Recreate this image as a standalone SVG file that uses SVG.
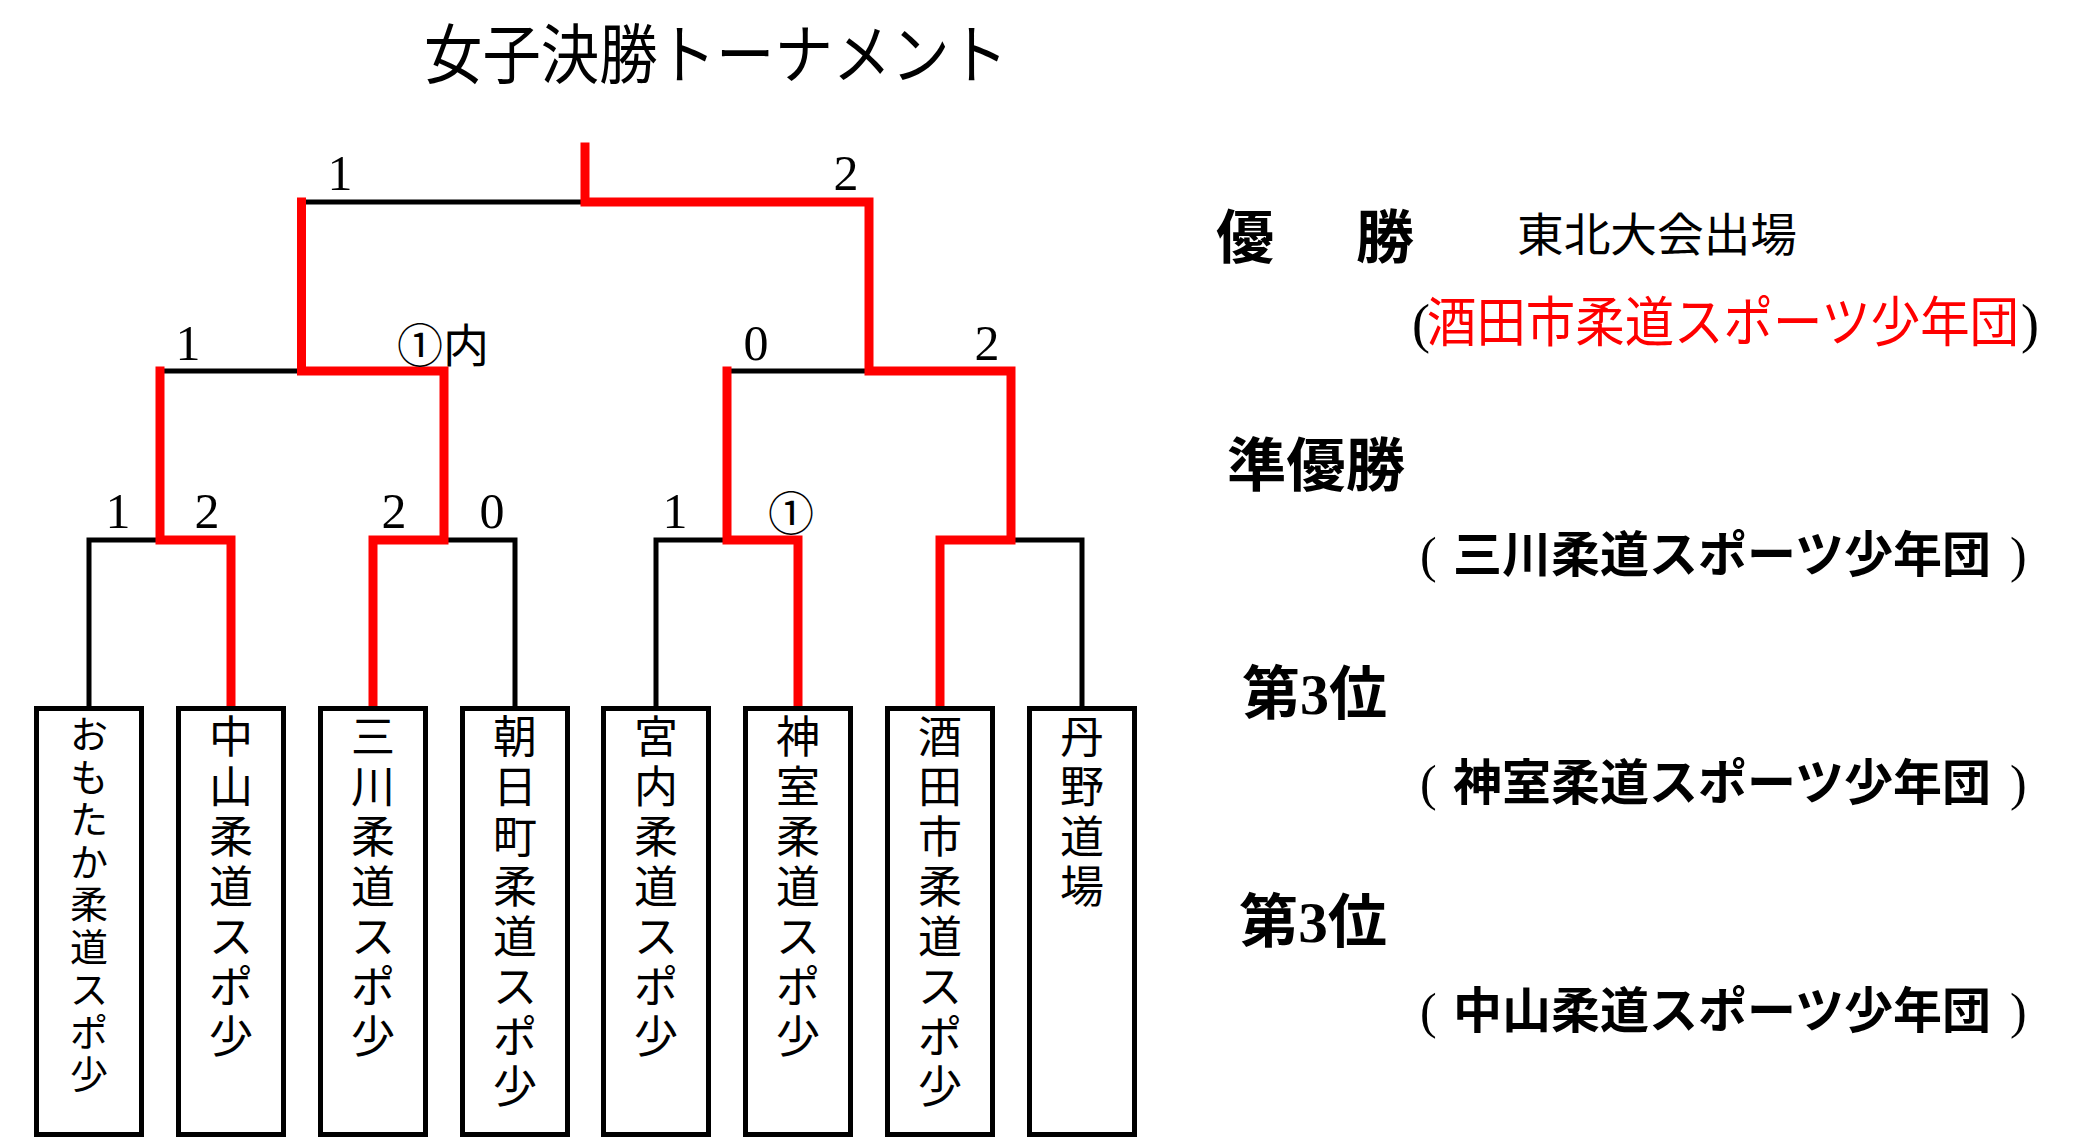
<svg xmlns="http://www.w3.org/2000/svg" width="2079" height="1139" viewBox="0 0 2079 1139">
<style>
.bk{fill:none;stroke:#000;stroke-width:5;stroke-linejoin:miter;stroke-linecap:square}
.rd{fill:none;stroke:#FF0000;stroke-width:9;stroke-linejoin:miter;stroke-linecap:square}
.box{fill:#fff;stroke:#000;stroke-width:5}
.jp{font-family:"Noto Sans CJK JP","Noto Sans CJK SC",sans-serif;fill:#000}
.num{font-family:"Liberation Serif","Noto Sans CJK JP",serif;font-size:50px;fill:#000;text-anchor:middle}
.circ{font-family:"Noto Sans CJK JP",sans-serif;font-size:46px;fill:#000}
.v{font-family:"Noto Sans CJK JP","Noto Sans CJK SC",sans-serif;font-size:44px;fill:#000;text-anchor:middle}
.vs{font-size:38px}
.h{font-weight:bold;font-size:58px}
.team{font-size:49px;font-weight:bold}
.par{font-family:"Liberation Serif",serif;fill:#000}
</style>
<rect width="2079" height="1139" fill="#fff"/>
<text id="title" class="jp" x="424" y="78" font-size="65" textLength="584" lengthAdjust="spacingAndGlyphs">女子決勝トーナメント</text>

<g id="connectors">
  <polyline class="bk" points="89,708 89,540 160,540"/>
  <polyline class="bk" points="515,708 515,540 444,540"/>
  <polyline class="bk" points="656,708 656,540 727,540"/>
  <polyline class="bk" points="1082,708 1082,540 1011,540"/>
  <polyline class="bk" points="160,371 301.5,371"/>
  <polyline class="bk" points="727,371 869,371"/>
  <polyline class="bk" points="301.5,202 585,202"/>
  <polyline class="rd" points="231,708 231,540 160,540 160,371"/>
  <polyline class="rd" points="373,708 373,540 444,540 444,371 301.5,371 301.5,202"/>
  <polyline class="rd" points="798,708 798,540 727,540 727,371"/>
  <polyline class="rd" points="940,708 940,540 1011,540 1011,371 869,371 869,202 585,202 585,147"/>
</g>

<g id="scores">
  <text class="num" x="340" y="190">1</text>
  <text class="num" x="846" y="190">2</text>
  <text class="num" x="188" y="360">1</text>
  <text class="circ" x="397" y="362">①内</text>
  <text class="num" x="756" y="360">0</text>
  <text class="num" x="987" y="360">2</text>
  <text class="num" x="118" y="528">1</text>
  <text class="num" x="207" y="528">2</text>
  <text class="num" x="394" y="528">2</text>
  <text class="num" x="492" y="528">0</text>
  <text class="num" x="675" y="528">1</text>
  <text class="circ" x="768" y="530">①</text>
</g>

<g id="team1">
  <rect class="box" x="36.5" y="708.5" width="105" height="426"/>
  <text class="v vs" x="89 89 89 89 89 89 89 89 89" y="748 790.5 833 875.5 918 960.5 1003 1045.5 1088">おもたか柔道スポ少</text>
</g>
<g id="team2">
  <rect class="box" x="178.5" y="708.5" width="105" height="426"/>
  <text class="v" x="231 231 231 231 231 231 231" y="753 803 853 903 953 1003 1053">中山柔道スポ少</text>
</g>
<g id="team3">
  <rect class="box" x="320.5" y="708.5" width="105" height="426"/>
  <text class="v" x="373 373 373 373 373 373 373" y="753 803 853 903 953 1003 1053">三川柔道スポ少</text>
</g>
<g id="team4">
  <rect class="box" x="462.5" y="708.5" width="105" height="426"/>
  <text class="v" x="515 515 515 515 515 515 515 515" y="753 803 853 903 953 1003 1053 1103">朝日町柔道スポ少</text>
</g>
<g id="team5">
  <rect class="box" x="603.5" y="708.5" width="105" height="426"/>
  <text class="v" x="656 656 656 656 656 656 656" y="753 803 853 903 953 1003 1053">宮内柔道スポ少</text>
</g>
<g id="team6">
  <rect class="box" x="745.5" y="708.5" width="105" height="426"/>
  <text class="v" x="798 798 798 798 798 798 798" y="753 803 853 903 953 1003 1053">神室柔道スポ少</text>
</g>
<g id="team7">
  <rect class="box" x="887.5" y="708.5" width="105" height="426"/>
  <text class="v" x="940 940 940 940 940 940 940 940" y="753 803 853 903 953 1003 1053 1103">酒田市柔道スポ少</text>
</g>
<g id="team8">
  <rect class="box" x="1029.5" y="708.5" width="105" height="426"/>
  <text class="v" x="1082 1082 1082 1082" y="753 803 853 903">丹野道場</text>
</g>

<g id="results">
  <text class="jp h" x="1216" y="258" letter-spacing="-11.3">優　　勝</text>
  <text class="jp" x="1517" y="251" font-size="46" textLength="280" lengthAdjust="spacingAndGlyphs">東北大会出場</text>
  <text class="par" x="1412" y="342" font-size="54">(</text>
  <text class="jp" x="1427" y="342" font-size="54" style="fill:#FF0000" textLength="592" lengthAdjust="spacingAndGlyphs">酒田市柔道スポーツ少年団</text>
  <text class="par" x="2021" y="342" font-size="54">)</text>

  <text class="jp h" x="1227" y="486" textLength="178" lengthAdjust="spacingAndGlyphs">準優勝</text>
  <text class="par" x="1420" y="572" font-size="50">(</text>
  <text class="jp team" x="1453" y="572" textLength="538" lengthAdjust="spacingAndGlyphs">三川柔道スポーツ少年団</text>
  <text class="par" x="2010" y="572" font-size="50">)</text>

  <text class="jp h" x="1242" y="714" textLength="145" lengthAdjust="spacingAndGlyphs">第<tspan font-family="Liberation Serif">3</tspan>位</text>
  <text class="par" x="1420" y="800" font-size="50">(</text>
  <text class="jp team" x="1453" y="800" textLength="538" lengthAdjust="spacingAndGlyphs">神室柔道スポーツ少年団</text>
  <text class="par" x="2010" y="800" font-size="50">)</text>

  <text class="jp h" x="1239" y="942" textLength="148" lengthAdjust="spacingAndGlyphs">第<tspan font-family="Liberation Serif">3</tspan>位</text>
  <text class="par" x="1420" y="1028" font-size="50">(</text>
  <text class="jp team" x="1453" y="1028" textLength="538" lengthAdjust="spacingAndGlyphs">中山柔道スポーツ少年団</text>
  <text class="par" x="2010" y="1028" font-size="50">)</text>
</g>
</svg>
